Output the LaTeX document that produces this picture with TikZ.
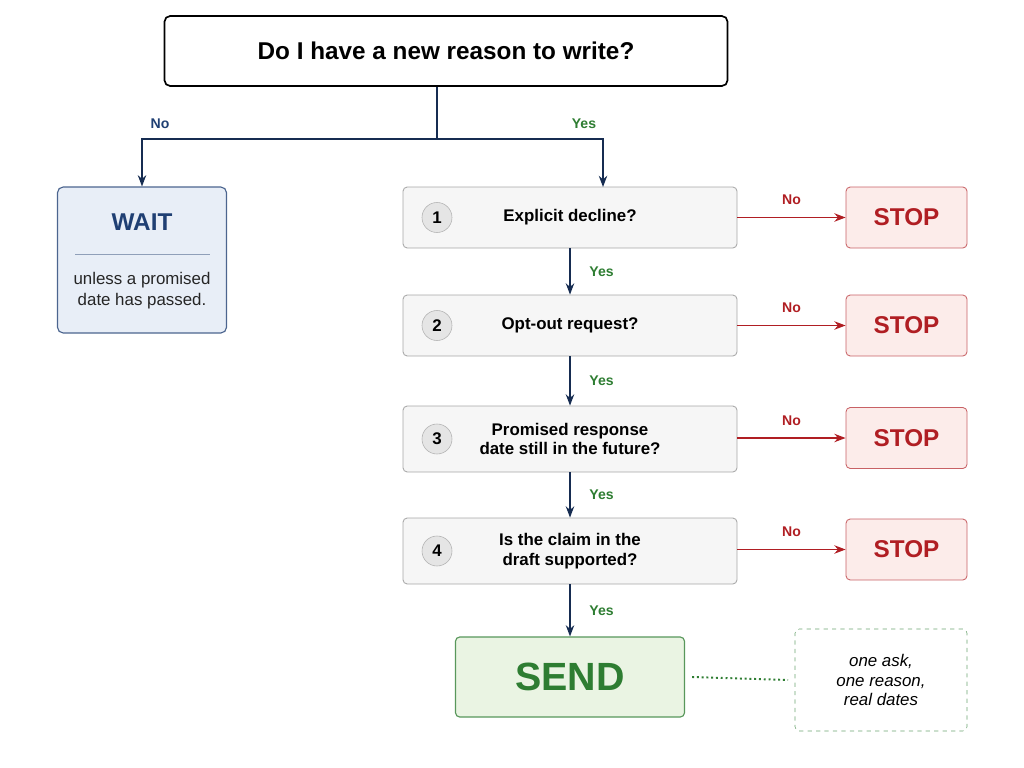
\documentclass[tikz,border=0pt]{standalone}
\usepackage{fontspec}
\setmainfont{Liberation Sans}
\usetikzlibrary{arrows.meta}
\definecolor{navy}{HTML}{1F3F73}
\definecolor{wfill}{HTML}{E8EEF7}
\definecolor{redc}{HTML}{B01E23}
\definecolor{rfill}{HTML}{FCECEA}
\definecolor{grn}{HTML}{2E7D32}
\definecolor{gfill}{HTML}{EAF4E3}
\definecolor{sfill}{HTML}{F6F6F6}
\begin{document}
\begin{tikzpicture}[x=0.025cm,y=-0.025cm,
  stepbox/.style={draw=gray!70,fill=sfill,rounded corners=3pt,line width=.6pt,minimum width=334*0.025cm,align=center,font=\bfseries\large},
  stop/.style={draw=redc!70,fill=rfill,rounded corners=3pt,line width=.6pt,minimum width=121*0.025cm,minimum height=61*0.025cm,text=redc,font=\bfseries\LARGE},
  num/.style={circle,draw=gray!60,fill=gray!20,minimum size=30*0.025cm,inner sep=0pt,font=\bfseries\large},
  arr/.style={-{Stealth[length=8pt,width=6pt]},line width=1pt},
  yes/.style={text=grn,font=\bfseries},
  no/.style={text=redc,font=\bfseries}]
\useasboundingbox (0,0) rectangle (1024,768);
% question
\node[draw,rounded corners=4pt,line width=1.2pt,minimum width=563*0.025cm,minimum height=70*0.025cm,font=\bfseries\LARGE] (q) at (446,51) {Do I have a new reason to write?};
\coordinate (split) at (437,139);
\coordinate (left) at (142,139);
% wait
\node[draw=navy!80,fill=wfill,rounded corners=4pt,line width=.8pt,minimum width=169*0.025cm,minimum height=146*0.025cm] (wait) at (142,260) {};
\node[text=navy,font=\bfseries\LARGE] (waitt) at (142,222) {WAIT};
\draw[navy!50] (75,254) -- (210,254);
\node[align=center,font=\large,text=gray!30!black] (waitn) at (142,291) {unless a promised\\[1pt]date has passed.};
% steps
\node[stepbox,minimum height=61*0.025cm] (s1) at (570,217.5) {Explicit decline?};
\node[stepbox,minimum height=61*0.025cm] (s2) at (570,325.5) {Opt-out request?};
\node[stepbox,minimum height=66*0.025cm] (s3) at (570,439) {Promised response\\date still in the future?};
\node[stepbox,minimum height=66*0.025cm] (s4) at (570,551) {Is the claim in the\\draft supported?};
\foreach \i/\y in {1/217.5,2/325.5,3/439,4/551}
  \node[num] (n\i) at (437,\y) {\i};
\foreach \i/\y in {1/217.5,2/325.5,3/438,4/549.5}{
  \node[stop] (t\i) at (906.5,\y) {STOP};
  \draw[arr,redc] (s\i.east |- t\i) -- (t\i.west) node[midway,above=5pt,no] {No};
}
% send
\node[draw=grn!80,fill=gfill,rounded corners=3pt,line width=.8pt,minimum width=229*0.025cm,minimum height=80*0.025cm,text=grn,font=\bfseries\fontsize{28}{30}\selectfont] (send) at (570,677) {SEND};
\node[draw=grn!70,dashed,rounded corners=3pt,minimum width=172*0.025cm,minimum height=102*0.025cm,align=center,font=\itshape\large] (note) at (881,680) {one ask,\\one reason,\\real dates};
\coordinate (dotend) at (788,680);
\draw[grn,dotted,line width=1.4pt] ([xshift=7*0.025cm]send.east) -- (dotend);
% connectors
\draw[line width=1pt,navy!70!black] (q.south -| split) -- (split);
\draw[arr,navy!70!black] (split) -- (left) -- (wait.north);
\draw[arr,navy!70!black] (split) -- (603,139) -- (603,187);
\node[text=navy,font=\bfseries] (lno) at (160,124) {No};
\node[yes] (lyes) at (584,124) {Yes};
\draw[arr,navy!70!black] (s1) -- (s2) node[midway,right=10pt,yes] {Yes};
\draw[arr,navy!70!black] (s2) -- (s3) node[midway,right=10pt,yes] {Yes};
\draw[arr,navy!70!black] (s3) -- (s4) node[midway,right=10pt,yes] {Yes};
\draw[arr,navy!70!black] (s4) -- (send) node[midway,right=10pt,yes] {Yes};
\end{tikzpicture}
\end{document}
